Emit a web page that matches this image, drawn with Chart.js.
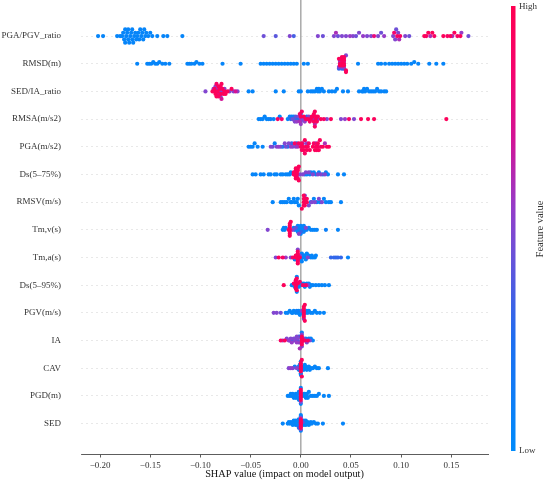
<!DOCTYPE html>
<html><head><meta charset="utf-8">
<script src="https://cdn.jsdelivr.net/npm/chart.js@4"></script>
<style>html,body{margin:0;padding:0;background:#fff}</style>
</head><body>
<canvas id="c" width="550" height="481" style="width:550px;height:481px"></canvas>
<script>
// Feature names, bottom (index 0) to top (index 14)
const features = ['SED','PGD(m)','CAV','IA','PGV(m/s)','Ds(5\u201395%)','Tm,a(s)','Tm,v(s)','RMSV(m/s)','Ds(5\u201375%)','PGA(m/s2)','RMSA(m/s2)','SED/IA_ratio','RMSD(m)','PGA/PGV_ratio'];
const xTicks = [-0.20,-0.15,-0.10,-0.05,0.00,0.05,0.10,0.15];
const xTitle = 'SHAP value (impact on model output)';

// Each entry: [SHAP value, normalised feature value (0 = low, 1 = high)]
const rowSED = [[0,.95],[0,.95],[0,.95],[0,.95],[0,.95],[0,.95],[0,.95],[0,.5],[0,.5],[0,.05],[0,.05],[0,.05],
 [-0.018,.05],[-0.013,.05],[-0.012,.05],[-0.011,.05],[-0.010,.05],[-0.009,.05],[-0.008,.05],[-0.008,.05],[-0.007,.05],[-0.006,.05],[-0.006,.05],[-0.005,.05],[-0.005,.05],[-0.004,.05],[-0.004,.05],[-0.003,.05],[-0.003,.05],[-0.002,.05],[-0.002,.05],[-0.002,.3],
 [0.002,.05],[0.002,.4],[0.003,.05],[0.003,.05],[0.004,.05],[0.004,.05],[0.005,.05],[0.005,.05],[0.006,.05],[0.007,.05],[0.008,.05],[0.009,.05],[0.010,.05],[0.011,.05],[0.013,.05],[0.015,.05],[0.017,.05],[0.022,.05],[0.042,.05]];
const rowPGD = [[0,.95],[0,.95],[0,.95],[0,.95],[0,.95],[0,.95],[0,.5],[0,.05],[0,.05],
 [-0.013,.05],[-0.011,.05],[-0.010,.05],[-0.009,.05],[-0.008,.05],[-0.007,.05],[-0.006,.05],[-0.005,.05],[-0.005,.05],[-0.004,.05],[-0.003,.05],[-0.003,.05],[-0.002,.05],[-0.002,.05],
 [0.002,.05],[0.003,.05],[0.004,.05],[0.004,.05],[0.005,.05],[0.006,.05],[0.006,.05],[0.007,.05],[0.008,.05],[0.010,.05],[0.012,.05],[0.014,.05],[0.016,.05],[0.018,.05],[0.023,.05],[0.028,.05]];
const rowCAV = [[0,.95],[0,.95],[0,.95],[0,.95],[0,.95],[0,.95],[0,.05],[0,.05],[0,.05],[0.001,.95],[0.001,.95],
 [-0.012,.5],[-0.010,.55],[-0.008,.5],[-0.006,.1],[-0.004,.5],[-0.003,.05],[-0.002,.05],[-0.002,.05],[-0.001,.05],
 [0.002,.05],[0.003,.05],[0.003,.05],[0.004,.05],[0.005,.05],[0.005,.05],[0.006,.05],[0.007,.05],[0.008,.05],[0.009,.05],[0.010,.05],[0.012,.05],[0.014,.05],[0.016,.05],[0.018,.05],[0.027,.05]];
const rowIA = [[0.001,.95],[0.001,.95],[0.001,.95],[0.001,.95],[0.001,.95],[0.001,.5],[0.001,.5],[0.001,.1],
 [-0.020,.9],[-0.018,.55],[-0.016,.95],[-0.014,.5],[-0.012,.55],[-0.011,.1],[-0.010,.5],[-0.009,.55],[-0.008,.2],[-0.007,.5],[-0.006,.5],[-0.005,.1],[-0.004,.55],[-0.004,.5],[-0.003,.2],[-0.003,.5],[-0.002,.5],[-0.002,.3],[-0.001,.6],
 [0.002,.9],[0.003,.5],[0.004,.9],[0.005,.1],[0.006,.5],[0.007,.9],[0.008,.1],[0.009,.5],[0.010,.05],[0.012,.05]];
const rowPGV = [[0.003,.95],[0.003,.95],[0.003,.95],[0.003,.95],[0.003,.95],[0.003,.95],[0.003,.5],[0.004,.95],[0.004,.95],
 [-0.027,.5],[-0.024,.5],[-0.020,.45],[-0.015,.05],[-0.013,.05],[-0.011,.05],[-0.009,.05],[-0.008,.05],[-0.007,.05],[-0.005,.05],[-0.004,.1],[-0.003,.05],[-0.002,.05],[-0.001,.05],[0.000,.05],[0.001,.5],
 [0.005,.05],[0.006,.05],[0.007,.05],[0.008,.05],[0.010,.05],[0.012,.05],[0.014,.05],[0.016,.05],[0.019,.05],[0.023,.05]];
const rowDs595 = [[-0.005,.95],[-0.005,.95],[-0.005,.95],[-0.005,.95],[-0.005,.95],[-0.005,.95],[-0.004,.95],[-0.004,.95],[-0.004,.05],[-0.004,.05],[-0.003,.05],[-0.003,.95],
 [-0.017,.95],[-0.009,.05],[-0.008,.05],[-0.007,.9],[-0.006,.05],
 [-0.002,.05],[-0.001,.9],[0.000,.05],[0.001,.05],[0.002,.9],[0.003,.05],[0.004,.05],[0.005,.9],[0.006,.05],[0.007,.5],[0.008,.05],[0.009,.05],[0.010,.05],[0.012,.05],[0.015,.05],[0.018,.05],[0.021,.05],[0.024,.05],[0.028,.05]];
const rowTma = [[-0.003,.95],[-0.003,.95],[-0.003,.95],[-0.003,.95],[-0.003,.95],[-0.003,.95],[-0.003,.95],[-0.003,.5],[-0.005,.95],[-0.005,.95],[-0.001,.95],[-0.001,.5],
 [-0.025,.5],[-0.022,.95],[-0.018,.9],[-0.015,.55],[-0.010,.5],[-0.008,.9],[-0.006,.1],
 [0.000,.05],[0.001,.05],[0.001,.05],[0.002,.05],[0.003,.05],[0.004,.05],[0.004,.05],[0.005,.05],[0.006,.05],[0.007,.5],[0.008,.05],[0.010,.05],[0.011,.05],[0.012,.05],[0.014,.05],[0.015,.05],
 [0.030,.3],[0.033,.3],[0.035,.3],[0.037,.3],[0.040,.3],[0.047,.05]];
const rowTmv = [[-0.011,.95],[-0.011,.95],[-0.011,.95],[-0.011,.95],[-0.011,.95],[-0.011,.95],[-0.011,.95],[-0.012,.95],[-0.010,.95],
 [-0.033,.5],[-0.018,.05],[-0.017,.05],[-0.016,.05],[-0.015,.1],
 [-0.008,.5],[-0.007,.05],[-0.006,.05],[-0.005,.4],[-0.004,.05],[-0.003,.05],[-0.003,.05],[-0.003,.05],[-0.002,.5],[-0.001,.05],[0.000,.05],[0.000,.3],[0.000,.05],[0.000,.05],[0.001,.05],[0.002,.05],[0.003,.05],[0.003,.05],[0.004,.1],[0.005,.5],[0.006,.05],[0.008,.05],[0.010,.05],[0.012,.05],[0.014,.05],[0.016,.05],[0.025,.1],[0.037,.05]];
const rowRMSV = [[0.003,.95],[0.003,.95],[0.003,.95],[0.003,.95],[0.004,.95],[0.004,.95],[0.004,.95],[0.004,.5],[0.001,.95],[0.006,.95],[0.006,.95],
 [-0.028,.05],[-0.020,.05],[-0.018,.05],[-0.016,.05],[-0.014,.05],[-0.012,.05],[-0.010,.05],[-0.009,.05],[-0.007,.05],[-0.006,.05],[-0.004,.05],[-0.003,.05],[-0.002,.05],
 [0.008,.5],[0.010,.05],[0.011,.5],[0.013,.05],[0.014,.5],[0.016,.05],[0.018,.5],[0.019,.05],[0.021,.5],[0.023,.05],[0.025,.05],[0.028,.05],[0.030,.05],[0.040,.05]];
const rowDs575 = [[-0.005,.95],[-0.005,.95],[-0.005,.95],[-0.005,.95],[-0.005,.95],[-0.005,.95],[-0.004,.95],[-0.004,.95],[-0.004,.5],[-0.003,.95],[-0.003,.95],[-0.003,.95],[-0.002,.95],[-0.002,.95],[-0.007,.95],[-0.007,.95],[-0.001,.5],
 [-0.048,.05],[-0.045,.05],[-0.040,.05],[-0.037,.05],[-0.032,.05],[-0.030,.05],[-0.026,.05],[-0.024,.05],[-0.020,.05],[-0.018,.05],[-0.015,.05],[-0.013,.05],[-0.011,.05],[-0.010,.05],
 [0.002,.5],[0.004,.05],[0.005,.5],[0.006,.05],[0.008,.5],[0.009,.05],[0.010,.05],[0.012,.5],[0.013,.05],[0.015,.05],[0.017,.5],[0.018,.05],[0.020,.5],[0.022,.05],[0.024,.5],[0.025,.05],[0.027,.05],[0.037,.05],[0.043,.05]];
const rowPGA = [[-0.052,.05],[-0.050,.05],[-0.048,.05],[-0.046,.05],[-0.043,.05],[-0.038,.05],
 [-0.030,.5],[-0.028,.45],[-0.026,.1],[-0.024,.5],[-0.022,.55],[-0.020,.4],[-0.018,.1],[-0.016,.5],[-0.015,.45],[-0.013,.2],[-0.012,.5],[-0.010,.55],[-0.009,.3],[-0.008,.5],[-0.006,.9],[-0.005,.5],[-0.004,.1],[-0.003,.6],[-0.002,.9],
 [0.000,.95],[0.001,.95],[0.001,.9],[0.002,.95],[0.002,.5],[0.003,.95],[0.004,.95],[0.004,.9],[0.005,.95],[0.006,.55],[0.006,.95],[0.007,.95],[0.008,.9],[0.009,.95],
 [0.012,.95],[0.013,.9],[0.014,.95],[0.015,.95],[0.015,.55],[0.016,.95],[0.017,.9],[0.017,.95],[0.018,.95],[0.019,.95],[0.020,.9],[0.022,.95],[0.024,.6],[0.026,.95],[0.028,.95]];
const rowRMSA = [[-0.042,.05],[-0.040,.05],[-0.038,.05],[-0.036,.05],[-0.034,.05],[-0.032,.05],[-0.030,.1],[-0.027,.05],[-0.023,.9],[-0.021,.05],[-0.019,.85],
 [-0.013,.05],[-0.011,.1],[-0.010,.3],[-0.009,.05],[-0.008,.45],[-0.007,.1],[-0.006,.5],[-0.005,.05],[-0.005,.4],[-0.004,.55],[-0.003,.2],[-0.002,.5],[-0.001,.6],[-0.001,.9],[0.000,.5],[0.000,.95],[0.000,.4],[0.000,.3],[0.000,.55],
 [0.001,.9],[0.002,.5],[0.003,.95],[0.004,.55],[0.005,.9],[0.006,.2],[0.007,.95],[0.008,.5],[0.009,.9],
 [0.010,.95],[0.011,.95],[0.012,.5],[0.012,.9],[0.013,.95],[0.013,.95],[0.014,.6],[0.014,.95],[0.014,.9],[0.015,.95],[0.015,.9],[0.016,.95],[0.017,.55],[0.017,.95],
 [0.020,.95],[0.023,.9],[0.026,.5],[0.030,.95],[0.040,.5],[0.044,.55],[0.048,.9],[0.053,.5],[0.060,.95],[0.067,.95],[0.073,.95],[0.145,.95]];
const rowSEDIA = [[-0.095,.5],[-0.088,.95],[-0.087,.5],[-0.086,.95],[-0.086,.95],[-0.085,.95],[-0.085,.55],[-0.084,.95],[-0.084,.9],[-0.083,.95],[-0.083,.5],[-0.083,.7],[-0.082,.95],[-0.082,.9],[-0.081,.5],[-0.081,.95],[-0.080,.95],[-0.080,.9],[-0.080,.5],[-0.079,.95],[-0.079,.7],[-0.078,.5],[-0.078,.95],[-0.077,.95],[-0.076,.95],[-0.076,.5],[-0.075,.95],[-0.073,.95],[-0.071,.5],[-0.069,.95],[-0.067,.5],[-0.065,.7],[-0.063,.5],
 [-0.052,.05],[-0.048,.05],[-0.025,.05],[-0.017,.05],[-0.002,.05],[0.000,.05],[0.007,.05],[0.010,.05],[0.012,.05],[0.014,.05],[0.016,.05],[0.017,.05],[0.018,.05],[0.019,.05],[0.021,.05],[0.023,.05],[0.028,.05],[0.031,.05],[0.034,.05],[0.036,.05],[0.042,.05],[0.047,.05],
 [0.058,.05],[0.061,.05],[0.062,.05],[0.063,.05],[0.064,.05],[0.066,.05],[0.068,.05],[0.070,.05],[0.072,.05],[0.074,.05],[0.076,.05],[0.078,.05],[0.080,.05],[0.083,.05],[0.085,.05]];
const rowRMSD = [[0.041,.95],[0.041,.5],[0.041,.95],[0.041,.9],[0.041,.5],[0.041,.95],[0.041,.3],[0.041,.95],[0.039,.95],[0.039,.5],[0.039,.95],[0.039,.6],
 [0.043,.95],[0.043,.5],[0.043,.95],[0.043,.9],[0.043,.55],[0.043,.95],[0.043,.3],[0.043,.95],[0.045,.95],[0.045,.5],[0.045,.95],[0.038,.5],[0.038,.95],[0.038,.3],
 [-0.163,.05],[-0.153,.05],[-0.151,.05],[-0.149,.05],[-0.147,.05],[-0.145,.05],[-0.143,.05],[-0.141,.05],[-0.138,.05],[-0.135,.05],[-0.131,.05],[-0.113,.05],[-0.111,.05],[-0.109,.05],[-0.106,.05],[-0.104,.05],[-0.101,.05],[-0.098,.05],[-0.078,.05],[-0.060,.05],
 [-0.040,.05],[-0.037,.05],[-0.034,.05],[-0.031,.05],[-0.028,.05],[-0.025,.05],[-0.022,.05],[-0.019,.05],[-0.016,.05],[-0.013,.05],[-0.010,.05],[-0.007,.05],[-0.004,.05],[0.003,.05],[0.007,.05],[0.057,.05],
 [0.077,.05],[0.080,.05],[0.084,.05],[0.088,.05],[0.091,.05],[0.094,.05],[0.097,.05],[0.100,.05],[0.103,.05],[0.106,.05],[0.110,.05],[0.113,.05],[0.117,.05],[0.128,.05],[0.135,.05],[0.142,.05]];
const rowPGAPGV = [[-0.202,.05],[-0.197,.05],
 [-0.183,.05],[-0.180,.05],[-0.178,.05],[-0.177,.05],[-0.176,.05],[-0.175,.05],[-0.175,.05],[-0.174,.05],[-0.173,.05],[-0.172,.05],[-0.172,.05],[-0.171,.05],[-0.170,.05],[-0.169,.05],[-0.168,.05],[-0.168,.05],[-0.167,.05],[-0.166,.05],[-0.165,.05],[-0.164,.05],[-0.163,.05],[-0.162,.05],[-0.161,.05],[-0.160,.05],[-0.159,.05],[-0.158,.05],[-0.157,.05],[-0.156,.05],[-0.155,.05],[-0.154,.05],[-0.152,.05],[-0.150,.05],[-0.148,.05],
 [-0.143,.05],[-0.137,.05],[-0.133,.05],[-0.118,.05],
 [-0.037,.45],[-0.025,.4],[-0.011,.5],[-0.007,.35],
 [0.017,.5],[0.022,.45],[0.033,.5],[0.035,.6],[0.037,.45],[0.041,.5],[0.045,.5],[0.049,.55],[0.052,.5],[0.055,.45],[0.058,.5],[0.062,.55],[0.066,.5],[0.070,.5],[0.073,.8],[0.077,.5],[0.080,.45],[0.083,.55],
 [0.092,.5],[0.093,.85],[0.094,.5],[0.095,.45],[0.096,.9],[0.097,.5],[0.098,.6],[0.099,.9],[0.104,.5],[0.108,.45],
 [0.123,.95],[0.125,.9],[0.127,.95],[0.129,.6],[0.131,.95],[0.133,.9],
 [0.142,.95],[0.146,.9],[0.149,.95],[0.151,.6],[0.153,.95],[0.156,.9],[0.159,.95],[0.160,.55],[0.167,.45]];

const rows = [rowSED,rowPGD,rowCAV,rowIA,rowPGV,rowDs595,rowTma,rowTmv,rowRMSV,rowDs575,rowPGA,rowRMSA,rowSEDIA,rowRMSD,rowPGAPGV];

// SHAP red-blue colour map stops
const cmapStops = [[0,[0,139,251]],[0.25,[30,110,240]],[0.45,[110,80,215]],[0.55,[150,60,200]],[0.7,[210,20,150]],[0.85,[245,5,110]],[1,[255,0,81]]];
function cmap(t){
  for(let i=1;i<cmapStops.length;i++){
    if(t<=cmapStops[i][0]){
      const [t0,c0]=cmapStops[i-1],[t1,c1]=cmapStops[i];
      const f=(t-t0)/(t1-t0);
      return 'rgb('+c0.map((v,k)=>Math.round(v+(c1[k]-v)*f)).join(',')+')';
    }
  }
  return 'rgb(255,0,81)';
}

// Beeswarm offsets (same idea as shap's summary plot: bin by value, stack alternately)
function swarm(row){
  const xs=row.map(p=>p[0]);
  const mn=Math.min(...xs), mx=Math.max(...xs);
  const bw=Math.max(0.0025,(mx-mn)/100);
  const q=xs.map(x=>Math.round((x-mn)/bw));
  const idx=xs.map((_,i)=>i).sort((a,b)=>q[a]-q[b]||a-b);
  const ys=new Array(xs.length).fill(0);
  let layer=0,last=null;
  for(const i of idx){
    if(q[i]!==last) layer=0;
    ys[i]=Math.ceil(layer/2)*((layer%2)*2-1);
    layer++; last=q[i];
  }
  const m=Math.max(...ys)+1;
  return ys.map(v=>v*0.36/m);
}

const datasets=rows.map((row,r)=>{
  const off=swarm(row);
  const pts=row.map((p,i)=>({x:p[0],y:r+off[i],fv:p[1]}));
  pts.sort((a,b)=>a.fv-b.fv);
  return {label:features[r],data:pts,pointRadius:2.1,pointHoverRadius:2.1,borderWidth:0,
    backgroundColor:ctx=>cmap(ctx.raw?ctx.raw.fv:0),borderColor:'rgba(0,0,0,0)'};
});

const SERIF='"Liberation Serif","Times New Roman",serif';
const deco={id:'deco',
  beforeDatasetsDraw(chart){
    const {ctx,chartArea:a,scales:{x}}=chart;
    const px=x.getPixelForValue(0);
    ctx.save();ctx.strokeStyle='#a3a3a3';ctx.lineWidth=1.4;
    ctx.beginPath();ctx.moveTo(px,0);ctx.lineTo(px,a.bottom);ctx.stroke();ctx.restore();
  },
  afterDraw(chart){
    const ctx=chart.ctx;
    const top=6,bot=451,x0=511,w=4.5;
    const g=ctx.createLinearGradient(0,bot,0,top);
    cmapStops.forEach(([t,c])=>g.addColorStop(t,'rgb('+c.join(',')+')'));
    ctx.save();
    ctx.fillStyle=g;ctx.fillRect(x0,top,w,bot-top);
    ctx.fillStyle='#333';ctx.font='9px '+SERIF;ctx.textBaseline='middle';ctx.textAlign='left';
    ctx.fillText('High',519,7);ctx.fillText('Low',519,451);
    ctx.translate(540,229);ctx.rotate(-Math.PI/2);ctx.textAlign='center';
    ctx.font='10.5px '+SERIF;ctx.fillText('Feature value',0,0);
    ctx.restore();
  }
};

new Chart(document.getElementById('c'),{
  type:'scatter',
  data:{datasets},
  plugins:[deco],
  options:{
    responsive:false,animation:false,devicePixelRatio:1,
    layout:{padding:{left:0,right:62,top:7,bottom:0}},
    plugins:{legend:{display:false},tooltip:{enabled:false}},
    scales:{
      x:{type:'linear',min:-0.219,max:0.1865,
        afterBuildTicks:s=>{s.ticks=xTicks.map(v=>({value:v}));},
        afterFit:s=>{s.height=27;},
        ticks:{callback:v=>(v<0?'\u2212':'')+Math.abs(v).toFixed(2),font:{family:SERIF,size:9},color:'#333',padding:2.5,maxRotation:0,autoSkip:false},
        grid:{drawOnChartArea:false,drawTicks:true,tickLength:3.5,tickColor:'#333',tickWidth:0.8},
        border:{display:true,color:'#333',width:0.8},
        title:{display:true,text:xTitle,font:{family:SERIF,size:10.3},color:'#111',padding:{top:0,bottom:1}}
      },
      y:{type:'linear',min:-1.1,max:15.05,
        afterBuildTicks:s=>{s.ticks=features.map((_,i)=>({value:i}));},
        afterFit:s=>{s.width=81;},
        ticks:{callback:v=>features[v]!==undefined?features[v]:'',font:{family:SERIF,size:9},color:'#333',padding:0,autoSkip:false},
        grid:{color:'#e8e8e8',lineWidth:1,drawTicks:true,tickLength:20,tickColor:'rgba(0,0,0,0)'},
        border:{display:false,dash:[2,3]}
      }
    }
  }
});
</script>
</body></html>
